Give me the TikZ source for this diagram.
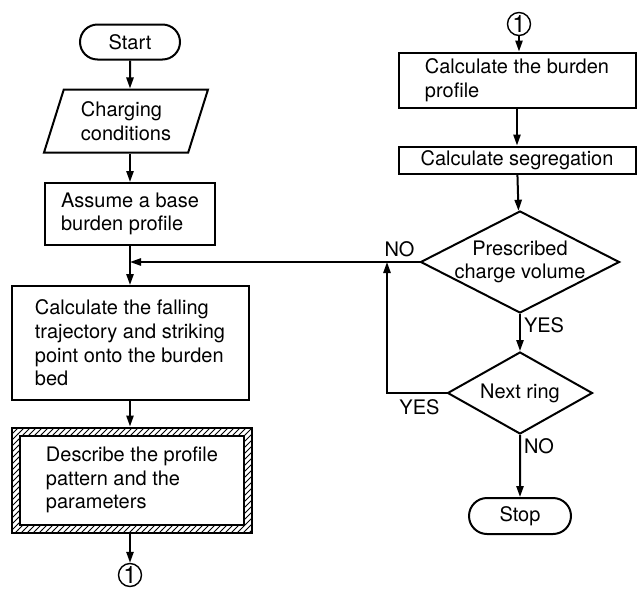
\documentclass[tikz,border=0pt]{standalone}
\usepackage{fontspec}
\setmainfont{TeX Gyre Heros}
\usetikzlibrary{arrows.meta, positioning, shapes.geometric, shapes.misc, patterns}

\begin{document}
\begin{tikzpicture}[x=0.5pt, y=-0.5pt, line width=1pt,
    every node/.style={font=\fontsize{10}{11.8}\selectfont},
    term/.style={draw, rounded rectangle, minimum width=50pt, minimum height=17.5pt, inner sep=0pt},
    io/.style={draw, trapezium, trapezium left angle=63, trapezium right angle=117, trapezium stretches body, minimum width=82pt, minimum height=31.5pt, align=left, inner sep=0pt},
    box/.style={draw, rectangle, align=left, inner sep=0pt},
    decision/.style={draw, diamond, aspect=2, inner sep=-4pt, align=center},
    conn/.style={draw, circle, minimum size=11.5pt, inner sep=0pt, line width=0.7pt, font=\fontsize{12}{12}\selectfont},
    arr/.style={-{Triangle[length=5.5pt, width=3.6pt]}}
]
\useasboundingbox (0,0) rectangle (643,590);

% Left column
\node[term] (start) at (130,42) {Start};
\node[io] (charge) at (126,121) {Charging\\conditions};
\node[box, minimum width=85pt, minimum height=31pt] (assume) at (130,214) {Assume a base\\burden profile};
\node[box, minimum width=118.5pt, minimum height=57pt] (calc) at (130,343)
    {Calculate the falling\\trajectory and striking\\point onto the burden\\bed};
% hatched frame
\node[box, minimum width=120pt, minimum height=52.5pt, pattern=north east lines] (frame) at (132,480) {};
\node[box, fill=white, minimum width=112pt, minimum height=44.5pt] (describe) at (frame)
    {Describe the profile\\pattern and the\\parameters};
\node[conn] (goto) at (130,575) {1};

% Right column
\node[conn] (from) at (519,24) {1};
\node[box, minimum width=118.5pt, minimum height=27.5pt] (burden) at (517,80) {Calculate the burden\\profile};
\node[box, minimum width=118.5pt, minimum height=13.5pt] (segreg) at (517,160) {Calculate segregation};
\node[decision, minimum width=99.5pt, minimum height=51pt] (prescribed) at (520,262) {Prescribed\\charge volume};
\node[decision, minimum width=72.5pt, minimum height=41pt] (nextring) at (520,393) {Next ring};
\node[term, minimum width=51pt, minimum height=18pt] (stop) at (520,516) {Stop};

\coordinate (join) at (assume.south |- prescribed.west);
\coordinate (back) at (387,262);

% Connectors
\draw[arr] (start) -- (start |- charge.north);
\draw[arr] (charge.south -| start) -- (assume);
\draw[arr] (assume) -- (calc);
\draw[arr] (calc) -- (calc |- frame.north);
\draw[arr] (calc |- frame.south) -- (goto);
\draw[arr] (from) -- (from |- burden.north);
\draw[arr] (burden) -- (segreg);
\draw[arr] (segreg) -- (prescribed);
\draw[arr] (prescribed.west) -- node[pos=0, above left, inner sep=2pt] {NO} (join);
\draw[arr] (prescribed) -- node[pos=0, below right, inner sep=1.5pt] {YES} (nextring);
\draw[arr] (nextring.west) node[below left, inner sep=3pt] {YES} -| (back);
\draw[arr] (nextring) -- node[pos=0, below right, inner sep=1.5pt] {NO} (stop);
\end{tikzpicture}
\end{document}
